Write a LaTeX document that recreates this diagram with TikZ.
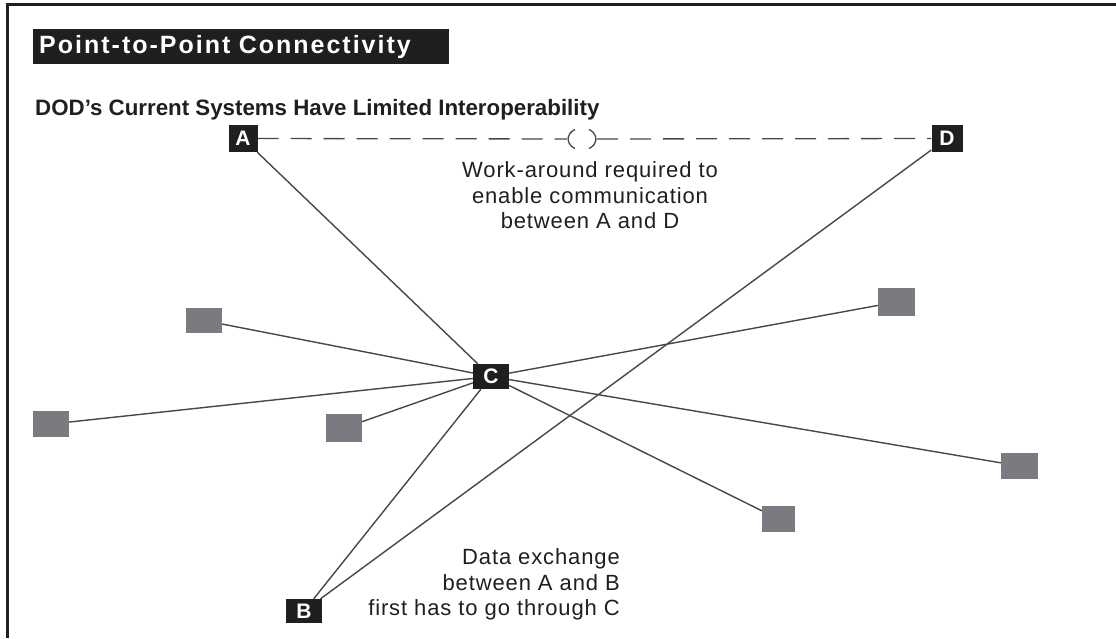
\documentclass[tikz,border=0pt]{standalone}
\usepackage{fontspec}
\setmainfont{Liberation Sans}
\usetikzlibrary{positioning}

\begin{document}
\begin{tikzpicture}[x=1pt, y=-1pt,
	sysnode/.style={fill=black!88, text=white, font=\fontsize{21}{21}\selectfont\bfseries, inner sep=0pt, minimum width=29pt, minimum height=27pt},
	appnode/.style={fill={rgb,255:red,122;green,123;blue,128}, inner sep=0pt, minimum width=36pt, minimum height=26pt},
	link/.style={draw=black!72, line width=1.4pt},
	note/.style={font=\fontsize{22}{25.5}\selectfont\addfontfeature{LetterSpace=4}, text=black!88, inner sep=0pt}]
	\useasboundingbox (0,0) rectangle (1116,638);
	% Frame
	\draw[line width=3pt, black!88] (7.5,638) -- (7.5,4.5) -- (1116,4.5);
	% Headings
	\node (title) [anchor=north west, fill=black!88, text=white, font=\fontsize{25}{25}\selectfont\bfseries\addfontfeature{LetterSpace=8}, minimum height=35pt, text width=404pt, inner xsep=6pt, inner ysep=0pt, align=left] at (33,29) {Point-to-Point Connectivity};
	\node (subtitle) [anchor=base west, inner sep=0pt, text=black!88, font=\fontsize{22.3}{22}\selectfont\bfseries] at (35,115) {DOD's Current Systems Have Limited Interoperability};
	% Systems
	\node (A) [sysnode] at (243,138.5) {A};
	\node (D) [sysnode, minimum width=31pt] at (947,138.5) {D};
	\node (C) [sysnode, minimum width=36pt, minimum height=25pt] at (491,376.5) {C};
	\node (B) [sysnode, minimum width=36pt, minimum height=24pt] at (304,611) {B};
	% Other systems
	\node (g1) [appnode, minimum height=25pt] at (204,320.5) {};
	\node (g2) [appnode] at (51,424) {};
	\node (g3) [appnode, minimum height=28pt] at (344,428) {};
	\node (g4) [appnode, minimum width=37pt, minimum height=28pt] at (896.5,302) {};
	\node (g5) [appnode, minimum width=37pt] at (1019.5,466) {};
	\node (g6) [appnode, minimum width=33pt] at (778.5,519) {};
	% Work-around between A and D
	\node (gap) [inner sep=0pt, minimum width=30pt, minimum height=22pt] at (582,139) {};
	\draw[link, line width=1.3pt, dash pattern=on 21pt off 12pt] (A) -- (gap);
	\draw[link, line width=1.3pt, dash pattern=on 21pt off 12pt] (gap) -- (D);
	\draw[link, line width=1.3pt] ([shift={(120:14 and 11)}]gap.center) arc[start angle=120, end angle=240, x radius=14, y radius=11];
	\draw[link, line width=1.3pt] ([shift={(-60:14 and 11)}]gap.center) arc[start angle=-60, end angle=60, x radius=14, y radius=11];
	% Links through C
	\foreach \n in {A, g1, g2, g3, B, g4, g5, g6}
		\draw[link] (C) -- (\n);
	\draw[link] (D) -- (B);
	% Notes
	\node (wanote) [note, align=center, anchor=north] at (590,161.5) {Work-around required to\\enable communication\\between A and D};
	\node (dxnote) [note, align=right, anchor=north east] at (620,548.5) {Data exchange\\between A and B\\first has to go through C};
\end{tikzpicture}
\end{document}
